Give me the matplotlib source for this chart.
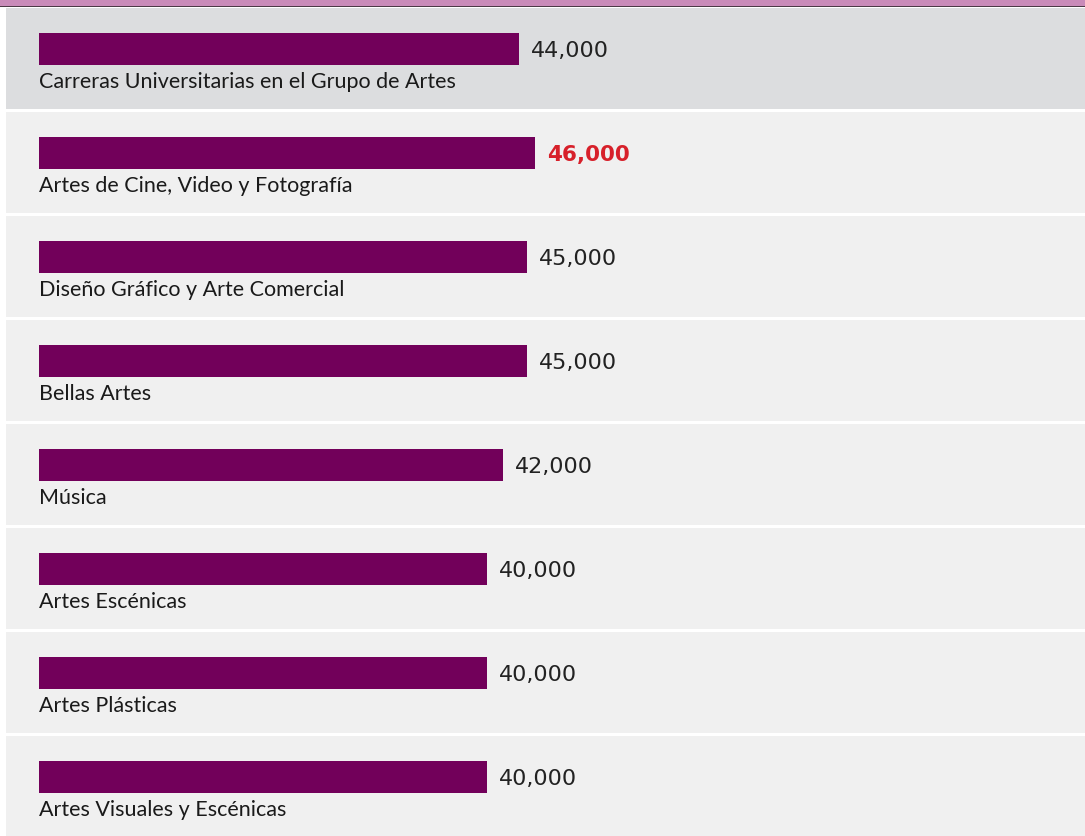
import matplotlib.pyplot as plt
from matplotlib.patches import Rectangle

categories = [
    "Carreras Universitarias en el Grupo de Artes",
    "Artes de Cine, Video y Fotografía",
    "Diseño Gráfico y Arte Comercial",
    "Bellas Artes",
    "Música",
    "Artes Escénicas",
    "Artes Plásticas",
    "Artes Visuales y Escénicas",
]
salaries = [44000, 46000, 45000, 45000, 42000, 40000, 40000, 40000]
labels = ["44,000", "46,000", "45,000", "45,000", "42,000", "40,000", "40,000", "40,000"]
highlight = 1  # the red, bold value

BAR_COLOR = "#72005a"
BASE = -16000            # bar scale origin (bars don't start at zero in the original)
X_LEFT, X_RIGHT = -20875, 114750
ROW_H = 104.0            # px per row, used to convert pixel offsets to row units
TOP = 8 / ROW_H          # height of the pink band, in rows

fig = plt.figure(figsize=(10.85, 8.37), dpi=100)
ax = fig.add_axes([0, 0, 1, 1])
ax.set_xlim(X_LEFT, X_RIGHT)
ax.set_ylim(-TOP + 837 / ROW_H, -TOP)
ax.axis("off")

px = (X_RIGHT - X_LEFT) / 1085  # data units per pixel, x

# top band
ax.add_patch(Rectangle((X_LEFT, -TOP), X_RIGHT - X_LEFT, 7 / ROW_H,
                       color="#c98bb9", lw=0))
ax.add_patch(Rectangle((X_LEFT, -1.3 / ROW_H), X_RIGHT - X_LEFT, 1.3 / ROW_H,
                       color="#4b3a46", lw=0))

for i, (cat, val, lab) in enumerate(zip(categories, salaries, labels)):
    bg = "#dcdddf" if i == 0 else "#f0f0f0"
    ax.add_patch(Rectangle((X_LEFT + 6 * px, i + 1 / ROW_H), X_RIGHT - X_LEFT,
                           1 - 3 / ROW_H, color=bg, lw=0))
    ax.barh(i + 42 / ROW_H, val - BASE, left=BASE, height=32 / ROW_H,
            color=BAR_COLOR, lw=0)
    hl = i == highlight
    ax.text(val + 12 * px, i + 43 / ROW_H, lab, va="center", ha="left",
            fontsize=15.5 if hl else 16, family="DejaVu Sans",
            color="#d7202a" if hl else "#222222",
            fontweight="bold" if hl else "normal")
    ax.text(BASE, i + 74 / ROW_H, cat, va="center", ha="left",
            fontsize=15.5, family="Lato", color="#1a1a1a")

fig.savefig("out.png", dpi=100)
